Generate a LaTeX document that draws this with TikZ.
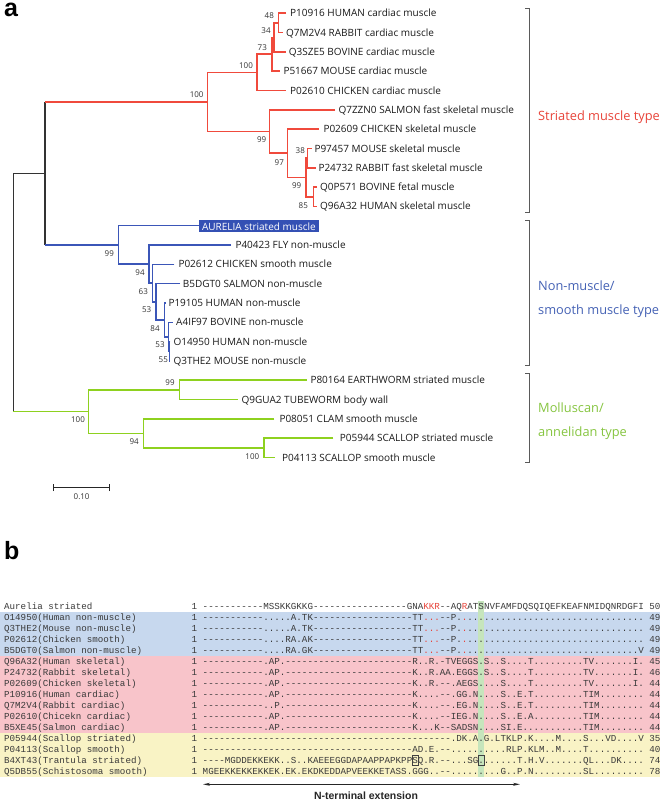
\documentclass[tikz,border=0pt]{standalone}
\usepackage{fontspec}
\setmonofont{Liberation Mono}
\newfontfamily\treefont{Open Sans}
\newfontfamily\panelfont{Liberation Sans}
\usetikzlibrary{arrows.meta}
\definecolor{tred}{HTML}{F04A3C}
\definecolor{tredtxt}{HTML}{E8443A}
\definecolor{tblue}{HTML}{3B56B8}
\definecolor{tbluetxt}{HTML}{4562B5}
\definecolor{aurc}{HTML}{3450B4}
\definecolor{tgreen}{HTML}{8ED11F}
\definecolor{tgreentxt}{HTML}{86C540}
\definecolor{brkc}{HTML}{5A5A5A}
\definecolor{leafc}{HTML}{1A1A1A}
\definecolor{bootc}{HTML}{333333}
\definecolor{bandblue}{HTML}{C7D8EE}
\definecolor{bandpink}{HTML}{F8C4CA}
\definecolor{bandyel}{HTML}{F9F3C5}
\definecolor{bandgreen}{HTML}{C6E5BC}
\definecolor{alnc}{HTML}{3A3A3A}
\definecolor{ared}{HTML}{E8443A}
\newcommand\myrep[2]{\ifnum#1>0 #2\expandafter\myrep\expandafter{\number\numexpr#1-1\relax}{#2}\fi}
\newcommand\adash[1]{\myrep{#1}{-}}
\newcommand\adot[1]{\myrep{#1}{.}}
\newcommand\rd[1]{\textcolor{ared}{#1}}
\newcommand\alnfont{\ttfamily\fontsize{9.19}{11}\selectfont}
\newcommand\mkleaf[5]{%
  \coordinate (l#1) at (#2,#4);
  \node[leaf] (t#1) at (#3,{#4+3.6}) {#5};}
\newcommand\mkrow[4]{%
  \node[aln] (lab#1) at (4,{609+11*#1}) {#2};
  \node[aln] (one#1) at (191.5,{609+11*#1}) {1};
  \node[aln] (seq#1) at (202.54,{609+11*#1}) {#3};
  \node[aln] (cnt#1) at (649.27,{609+11*#1}) {#4};}
\begin{document}
\begin{tikzpicture}[x=1pt,y=-1pt,
  leaf/.style={anchor=base west,inner sep=0pt,font=\treefont\fontsize{10}{12}\selectfont,text=leafc},
  boot/.style={anchor=center,inner sep=0pt,font=\treefont\fontsize{8}{9}\selectfont,text=bootc},
  grp/.style={anchor=base west,inner sep=0pt,font=\treefont\fontsize{12.8}{15}\selectfont},
  aurel/.style={anchor=west,fill=aurc,text=white,minimum height=12pt,inner xsep=2.8pt,inner ysep=0pt,font=\treefont\fontsize{10}{12}\selectfont},
  redl/.style={draw=tred,line width=1.6pt},
  bluel/.style={draw=tblue,line width=1.6pt},
  greenl/.style={draw=tgreen,line width=1.6pt},
  blackl/.style={draw=black!80,line width=1.6pt},
  brk/.style={draw=brkc,line width=0.8pt},
  aln/.style={anchor=base west,inner sep=0pt,font=\alnfont,text=alnc},
  panel/.style={anchor=base west,inner sep=0pt,font=\panelfont\bfseries\fontsize{25}{30}\selectfont}]
\useasboundingbox (0,0) rectangle (660,802);
\fill[white] (0,0) rectangle (660,802);

% ---------------- panel a ----------------
\node[panel] (pa) at (4,16.5) {a};

% leaves
\mkleaf{0}{286}{290}{13.3}{P10916 HUMAN cardiac muscle}
\mkleaf{1}{283}{286}{32.6}{Q7M2V4 RABBIT cardiac muscle}
\mkleaf{2}{285.5}{288.7}{51.9}{Q3SZE5 BOVINE cardiac muscle}
\mkleaf{3}{279.5}{283.3}{71.2}{P51667 MOUSE cardiac muscle}
\mkleaf{4}{286}{290}{90.5}{P02610 CHICKEN cardiac muscle}
\mkleaf{5}{335}{338.3}{109.9}{Q7ZZN0 SALMON fast skeletal muscle}
\mkleaf{6}{318.5}{323.3}{129.2}{P02609 CHICKEN skeletal muscle}
\mkleaf{7}{311.5}{314.3}{148.5}{P97457 MOUSE skeletal muscle}
\mkleaf{8}{315.5}{318.3}{167.8}{P24732 RABBIT fast skeletal muscle}
\mkleaf{9}{317}{320}{187.1}{Q0P571 BOVINE fetal muscle}
\mkleaf{10}{317}{320}{206.4}{Q96A32 HUMAN skeletal muscle}
\coordinate (l11) at (199,225.7);
\node[aurel] (t11) at (199,226.4) {AURELIA striated muscle};
\mkleaf{12}{231}{235.3}{245.0}{P40423 FLY non-muscle}
\mkleaf{13}{174.3}{178.3}{264.3}{P02612 CHICKEN smooth muscle}
\mkleaf{14}{180}{182.7}{283.6}{B5DGT0 SALMON non-muscle}
\mkleaf{15}{165.5}{168.3}{303.0}{P19105 HUMAN non-muscle}
\mkleaf{16}{172.7}{176}{322.3}{A4IF97 BOVINE non-muscle}
\mkleaf{17}{170.3}{173.3}{341.6}{O14950 HUMAN non-muscle}
\mkleaf{18}{170.3}{173.3}{360.9}{Q3THE2 MOUSE non-muscle}
\mkleaf{19}{306.5}{310.3}{380.2}{P80164 EARTHWORM striated muscle}
\mkleaf{20}{238.4}{241.4}{399.5}{Q9GUA2 TUBEWORM body wall}
\mkleaf{21}{274.3}{279.3}{418.8}{P08051 CLAM smooth muscle}
\mkleaf{22}{333.3}{339.7}{438.1}{P05944 SCALLOP striated muscle}
\mkleaf{23}{275}{281.9}{457.4}{P04113 SCALLOP smooth muscle}

% internal nodes
\coordinate (Root) at (13.3,292.5);
\coordinate (RB) at (45,173.4);
\coordinate (R1) at (207.3,102.0);
\coordinate (C1) at (256.7,72.4);
\coordinate (C2) at (271.7,54.3);
\coordinate (C3) at (274,37.4);
\coordinate (C4) at (278.3,22.95);
\coordinate (S1) at (269.3,131.6);
\coordinate (S2) at (287.3,153.3);
\coordinate (S3) at (307.3,158.15);
\coordinate (S4) at (306,177.45);
\coordinate (S5) at (313.3,196.75);
\coordinate (B1) at (118.3,244.85);
\coordinate (B2) at (149,264.0);
\coordinate (B3) at (152.3,283.0);
\coordinate (B4) at (156,301.75);
\coordinate (B5) at (164.3,319.9);
\coordinate (B6) at (168.3,336.8);
\coordinate (B7) at (169.3,351.25);
\coordinate (G1) at (88.3,411.6);
\coordinate (G2) at (179.3,389.85);
\coordinate (G3) at (143.5,433.3);
\coordinate (G4) at (263.7,447.75);

% black root
\draw[blackl] (Root |- RB) -- (Root |- G1);
\draw[blackl] (Root |- RB) -- (RB);
\draw[blackl] (RB |- R1) -- (RB |- B1);
% red clade
\draw[redl] (RB |- R1) -- (R1);
\draw[redl] (C1) -| (R1) |- (S1);
\draw[redl] (C2) -| (C1) |- (l4);
\draw[redl] (C3) -| (C2) |- (l3);
\draw[redl] (C4) -| (C3) |- (l2);
\draw[redl] (l0) -| (C4) |- (l1);
\draw[redl] (l5) -| (S1) |- (S2);
\draw[redl] (l6) -| (S2) |- (S4);
\draw[redl] (S3) -| (S4) |- (S5);
\draw[redl] (l7) -| (S3) |- (l8);
\draw[redl] (l9) -| (S5) |- (l10);
% blue clade
\draw[bluel] (RB |- B1) -- (B1);
\draw[bluel] (l11) -| (B1) |- (B2);
\draw[bluel] (l12) -| (B2) |- (B3);
\draw[bluel] (l13) -| (B3) |- (B4);
\draw[bluel] (l14) -| (B4) |- (B5);
\draw[bluel] (l15) -| (B5) |- (B6);
\draw[bluel] (l16) -| (B6) |- (B7);
\draw[bluel] (l17) -| (B7) |- (l18);
% green clade
\draw[greenl] (Root |- G1) -- (G1);
\draw[greenl] (G2) -| (G1) |- (G3);
\draw[greenl] (l19) -| (G2) |- (l20);
\draw[greenl] (l21) -| (G3) |- (G4);
\draw[greenl] (l22) -| (G4) |- (l23);

% bootstrap values
\node[boot] (bs1) at (269.3,16) {48};
\node[boot] (bs2) at (266,30.7) {34};
\node[boot] (bs3) at (262.3,47.3) {73};
\node[boot] (bs4) at (246,65.3) {100};
\node[boot] (bs5) at (196.7,95) {100};
\node[boot] (bs6) at (261.7,140) {99};
\node[boot] (bs7) at (279.3,162.3) {97};
\node[boot] (bs8) at (300.3,150.7) {38};
\node[boot] (bs9) at (296.7,185.7) {99};
\node[boot] (bs10) at (303.3,205.7) {85};
\node[boot] (bs11) at (109.3,253.3) {99};
\node[boot] (bs12) at (140,272.3) {94};
\node[boot] (bs13) at (143.3,291.7) {63};
\node[boot] (bs14) at (146.7,310) {53};
\node[boot] (bs15) at (155,328.3) {84};
\node[boot] (bs16) at (160,345) {53};
\node[boot] (bs17) at (163.3,360) {55};
\node[boot] (bs18) at (170,382.7) {99};
\node[boot] (bs19) at (78,420) {100};
\node[boot] (bs20) at (134.2,441.7) {94};
\node[boot] (bs21) at (252.3,456.7) {100};

% brackets
\draw[brk] (525.3,8.3) -- (529.3,8.3) -- (529.3,212.3) -- (525.3,212.3);
\draw[brk] (525.3,220.7) -- (529.3,220.7) -- (529.3,365.7) -- (525.3,365.7);
\draw[brk] (525.3,373.3) -- (529.3,373.3) -- (529.3,462.7) -- (525.3,462.7);
\node[grp,text=tredtxt] (g1) at (538,121) {Striated muscle type};
\node[grp,text=tbluetxt] (g2) at (538,290.7) {Non-muscle/};
\node[grp,text=tbluetxt] (g3) at (538,314.3) {smooth muscle type};
\node[grp,text=tgreentxt] (g4) at (538,412) {Molluscan/};
\node[grp,text=tgreentxt] (g5) at (538,436.7) {annelidan type};

% scale bar
\coordinate (sbL) at (53.6,487.3);
\coordinate (sbR) at (109.7,487.3);
\draw[draw=black!85,line width=1.1pt] (sbL) -- (sbR);
\draw[draw=black!85,line width=1.1pt] ([yshift=-3.8pt]sbL) -- ([yshift=3.8pt]sbL);
\draw[draw=black!85,line width=1.1pt] ([yshift=-3.8pt]sbR) -- ([yshift=3.8pt]sbR);
\node[boot] (sbt) at (81.6,496.5) {0.10};

% ---------------- panel b ----------------
\node[panel] (pb) at (4,559) {b};

\fill[bandblue] (0,611.5) rectangle (660,655.5);
\fill[bandpink] (0,655.5) rectangle (660,732.5);
\fill[bandyel] (0,732.5) rectangle (660,776.5);
\fill[bandgreen] (478.3,600.5) rectangle (483.8,776.5);

\mkrow{0}{Aurelia striated}{\adash{11}MSSKKGKKG\adash{17}GNA\rd{KKR}--AQ\rd{R}ATSNVFAMFDQSQIQEFKEAFNMIDQNRDGFI}{50}
\mkrow{1}{O14950(Human non-muscle)}{\adash{11}.....A.TK\adash{18}TT\rd{...}--P.\rd{.}\adot{32}}{49}
\mkrow{2}{Q3THE2(Mouse non-muscle)}{\adash{11}.....A.TK\adash{18}TT\rd{...}--P.\rd{.}\adot{32}}{49}
\mkrow{3}{P02612(Chicken smooth)}{\adash{11}....RA.AK\adash{18}TT\rd{...}--P.\rd{.}\adot{32}}{49}
\mkrow{4}{B5DGT0(Salmon non-muscle)}{\adash{11}....RA.GK\adash{18}TT\rd{...}--P.\rd{.}\adot{31}V}{49}
\mkrow{5}{Q96A32(Human skeletal)}{\adash{11}.AP.\adash{23}R..R.-TVEGGS.S..S\adot{4}T\adot{9}TV\adot{7}I.}{45}
\mkrow{6}{P24732(Rabbit skeletal)}{\adash{11}.AP.\adash{23}K..R.AA.EGGS.S..S\adot{4}T\adot{9}TV\adot{7}I.}{46}
\mkrow{7}{P02609(Chicken skeletal)}{\adash{11}.AP.\adash{23}K..R.--.AEGS\adot{4}S\adot{4}T\adot{9}TV\adot{7}I.}{44}
\mkrow{8}{P10916(Human cardiac)}{\adash{11}.AP.\adash{23}K\adot{4}--.GG.N\adot{4}S..E.T\adot{9}TIM\adot{8}}{44}
\mkrow{9}{Q7M2V4(Rabbit cardiac)}{\adash{11}..P.\adash{23}K\adot{4}--.EG.N\adot{4}S..E.T\adot{9}TIM\adot{8}}{44}
\mkrow{10}{P02610(Chicekn cardiac)}{\adash{11}.AP.\adash{23}K\adot{4}--IEG.N\adot{4}S..E.A\adot{9}TIM\adot{8}}{44}
\mkrow{11}{B5XE45(Salmon cardiac)}{\adash{11}.AP.\adash{23}K...K--SADSN\adot{4}SI.E\adot{11}TIM\adot{8}}{44}
\mkrow{12}{P05944(Scallop striated)}{\adash{45}.DK.A.G.LTKLP.K\adot{4}M\adot{4}S...VD\adot{4}V}{35}
\mkrow{13}{P04113(Scallop smooth)}{\adash{38}AD.E.--\adot{10}RLP.KLM..M\adot{4}T\adot{10}}{40}
\mkrow{14}{B4XT43(Trantula striated)}{----MGDDEKKEKK..S..KAEEEGGDAPAAPPAPKPPSQ.R.--...SG.\adot{6}T.H.V\adot{7}QL...DK\adot{4}}{74}
\mkrow{15}{Q5DB55(Schistosoma smooth)}{MGEEKKEKKEKKEK.EK.EKDKEDDAPVEEKKETASS.GGG..--\adot{9}G..P.N\adot{9}SL\adot{9}}{78}

% boxed residues
\draw[draw=black!75,line width=0.6pt] (411.9,754.8) rectangle (417.8,765.4);
\draw[draw=black!75,line width=0.6pt] (478.1,754.8) rectangle (484.0,765.4);

% N-terminal extension arrow
\coordinate (aL) at (203,784.3);
\coordinate (aR) at (520,784.3);
\draw[draw=black!85,line width=0.9pt,{Stealth[length=7pt,width=3pt]}-{Stealth[length=7pt,width=3pt]}] (aL) -- (aR);
\node[anchor=base,inner sep=0pt,font=\panelfont\bfseries\fontsize{10.5}{13}\selectfont,text=black!85] (nterm) at (366,799.8) {N-terminal extension};
\end{tikzpicture}
\end{document}
